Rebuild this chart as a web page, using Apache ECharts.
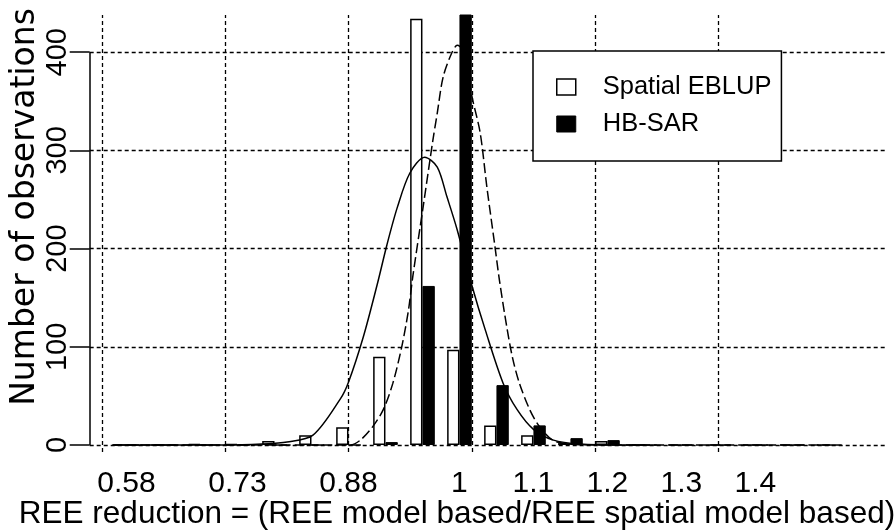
<!DOCTYPE html>
<html><head><meta charset="utf-8">
<script src="https://cdn.jsdelivr.net/npm/echarts@6/dist/echarts.min.js"></script>
<style>html,body{margin:0;padding:0;background:#fff}#c{width:896px;height:531px}</style>
</head><body><div id="c"></div>
<script>
// ---- data ----
const binCenters = [0.58,0.63,0.68,0.73,0.78,0.83,0.88,0.93,0.98,1.03,1.08,1.13,1.18,1.23,1.28,1.33,1.38,1.43,1.48,1.53];
const spatialEBLUP = [0,0,1,1,4,10,18,90,434,97,20,10,2,4,0,0,0,0,0,0];
const hbSAR        = [0,0,0,0,0,0,0,3,162,439,61,20,7,5,0,0,0,0,0,0];
const eblupDensity = [[0.561,0],[0.713,0],[0.763,1],[0.797,3],[0.832,10],[0.869,47],[0.880,64],[0.900,110],[0.919,164],[0.932,204],[0.946,242],[0.963,277],[0.983,293],[1.000,283],[1.013,253],[1.027,219],[1.047,162],[1.065,117],[1.089,63],[1.108,36],[1.130,16],[1.157,5],[1.193,1],[1.247,0],[1.281,0]];
const hbsarDensity = [[0.561,0],[0.855,0],[0.882,0],[0.896,5],[0.913,19],[0.927,36],[0.940,63],[0.952,100],[0.961,137],[0.967,172],[0.981,243],[0.994,310],[1.000,338],[1.008,375],[1.020,400],[1.027,407],[1.034,403],[1.048,351],[1.058,318],[1.067,263],[1.078,202],[1.084,168],[1.094,120],[1.102,88],[1.111,63],[1.125,36],[1.138,19],[1.156,5],[1.179,1],[1.220,0],[1.531,0]];
const xTickValues = [0.58,0.73,0.88,1.03,1.13,1.23,1.33,1.43];
const xTickLabels = ['0.58','0.73','0.88','1','1.1','1.2','1.3','1.4'];
const yTickValues = [0,100,200,300,400];
const xGridValues = [0.5467,0.7133,0.88,1.0467,1.2133,1.38];

// ---- axis extents ----
const X_MIN = 0.5302, X_MAX = 1.6052, Y_MIN = -7.1, Y_MAX = 437.9;

const chart = echarts.init(document.getElementById('c'), null, {renderer:'canvas'});
const FONT = '"Liberation Sans", Arial, sans-serif';
const dotted = {color:'#000', type:[4,3], width:1.3};

const gridLines = [];
xGridValues.forEach(v => gridLines.push([{coord:[v, Y_MIN]}, {coord:[v, Y_MAX]}]));
yTickValues.forEach(v => gridLines.push([{coord:[X_MIN, v]}, {coord:[X_MAX, v]}]));

chart.setOption({
  animation:false,
  backgroundColor:'#fff',
  grid:{left:89.7, right:11, top:15, bottom:79, containLabel:false},
  xAxis:{type:'value', min:X_MIN, max:X_MAX,
    axisLine:{show:false}, axisTick:{show:false}, splitLine:{show:false},
    axisLabel:{customValues:xTickValues, margin:17, fontSize:30, fontFamily:FONT, color:'#000',
      formatter:v => { const i = xTickValues.findIndex(t => Math.abs(t - v) < 1e-6); return i >= 0 ? xTickLabels[i] : ''; }}},
  yAxis:{type:'value', min:Y_MIN, max:Y_MAX,
    axisLine:{show:false}, splitLine:{show:false},
    axisTick:{show:true, customValues:yTickValues, length:20, lineStyle:{color:'#000', width:1.5}},
    axisLabel:{customValues:yTickValues, rotate:90, margin:17, fontSize:29, fontFamily:FONT, color:'#000'}},
  legend:{orient:'vertical', left:533, top:51, padding:[20,10,21,23], itemWidth:19, itemHeight:16, itemGap:5,
    backgroundColor:'#fff', borderColor:'#000', borderWidth:1.5, borderRadius:0,
    textStyle:{fontSize:25.5, fontFamily:FONT, color:'#000', lineHeight:26, padding:[6,0,0,22]},
    data:[{name:'Spatial EBLUP', icon:'rect', itemStyle:{color:'#fff', borderColor:'#000', borderWidth:1.5}},
          {name:'HB-SAR', icon:'rect', itemStyle:{color:'#000', borderColor:'#000', borderWidth:1}}]},
  graphic:[
    {type:'text', x:25, y:207, rotation:Math.PI/2, silent:true,
     style:{text:'Number of observations', font:'33px "DejaVu Sans"', fill:'#000', align:'center', verticalAlign:'middle', textAlign:'center', textVerticalAlign:'middle'}},
    {type:'text', x:457, y:514, silent:true,
     style:{text:'REE reduction = (REE model based/REE spatial model based)', font:'31.5px "Liberation Sans"', fill:'#000', align:'center', verticalAlign:'middle', textAlign:'center', textVerticalAlign:'middle'}}
  ],
  series:[
    {type:'line', name:'grid', data:[[X_MIN,0]], showSymbol:false, silent:true, clip:false, lineStyle:{width:0}, z:0,
     markLine:{silent:true, symbol:['none','none'], z:0, animation:false, label:{show:false}, lineStyle:dotted, emphasis:{disabled:true}, data:gridLines}},
    {type:'line', name:'axis', data:[[X_MIN,0]], showSymbol:false, silent:true, clip:false, lineStyle:{width:0}, z:1,
     markLine:{silent:true, symbol:['none','none'], z:3, animation:false, label:{show:false}, lineStyle:{color:'#000', type:'solid', width:1.5}, emphasis:{disabled:true},
       data:[[{coord:[X_MIN, yTickValues[0]]}, {coord:[X_MIN, yTickValues[yTickValues.length-1]]}]]}},
    {type:'bar', name:'Spatial EBLUP', data:binCenters.map((x,i)=>[x, spatialEBLUP[i]]), barWidth:12.33, barGap:'0%',
     itemStyle:{color:'#fff', borderColor:'#000', borderWidth:1.5}, z:2},
    {type:'bar', name:'HB-SAR', data:binCenters.map((x,i)=>[x, hbSAR[i]]), barWidth:12.33, barGap:'0%',
     itemStyle:{color:'#000', borderColor:'#000', borderWidth:1}, z:2},
    {type:'line', name:'EBLUP density', data:eblupDensity, showSymbol:false, smooth:0.3, silent:true,
     lineStyle:{color:'#000', width:1.5}, z:3},
    {type:'line', name:'HB-SAR density', data:hbsarDensity, showSymbol:false, smooth:0.3, silent:true,
     lineStyle:{color:'#000', width:1.5, type:[10,4]}, z:3}
  ]
});
</script></body></html>
